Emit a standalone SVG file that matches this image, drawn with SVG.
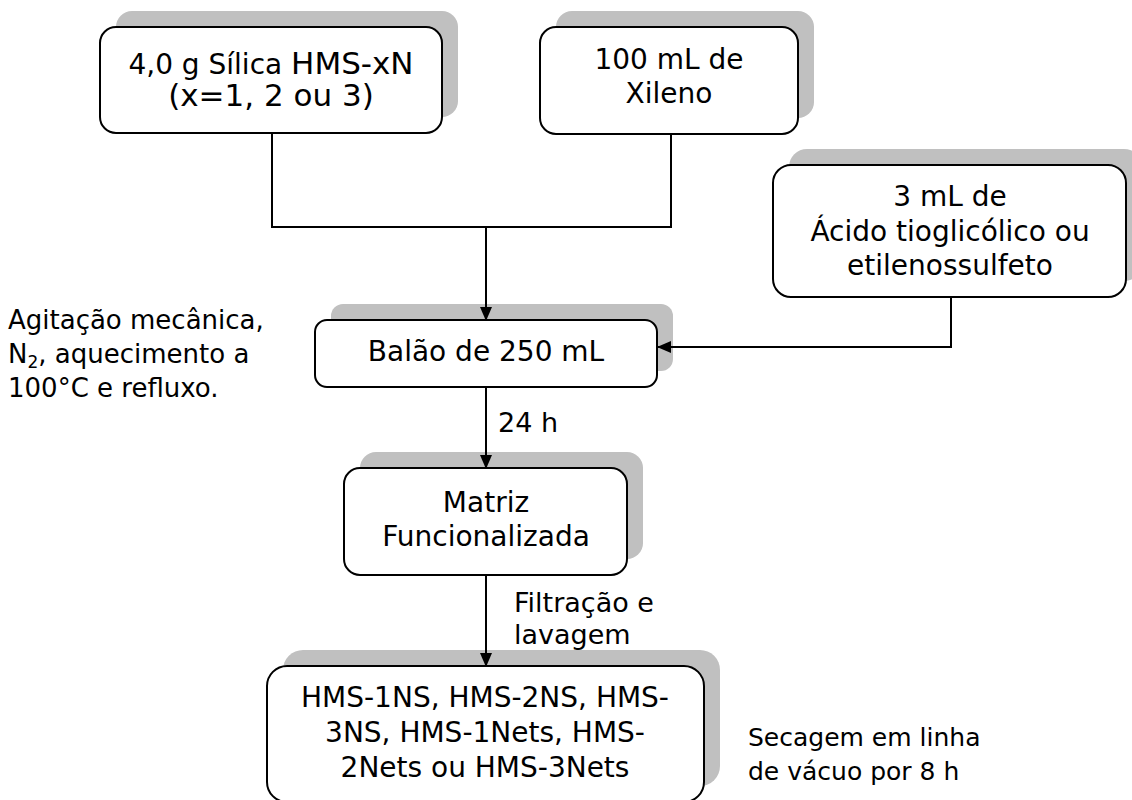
<svg xmlns="http://www.w3.org/2000/svg" width="1132" height="800" viewBox="0 0 1132 800">
<defs>
<style>
.shadow{fill:#c0c0c0;stroke:none}
.box{fill:#fff;stroke:#000;stroke-width:2}
.t{font-family:"DejaVu Sans","Verdana",sans-serif;font-size:28px;fill:#000}
.s{font-size:27px}
.side{font-size:26px}
.sec{font-size:25px}
.big{font-size:31px}
.c{text-anchor:middle}
.line{fill:none;stroke:#000;stroke-width:2}
</style>
<marker id="arr" markerWidth="14" markerHeight="12" refX="13" refY="6" orient="auto" markerUnits="userSpaceOnUse">
<path d="M0,0 L14,6 L0,12 Z" fill="#000"/>
</marker>
</defs>
<rect width="1132" height="800" fill="#fff"/>

<g id="silica">
<rect class="shadow" x="116" y="11" width="342" height="106" rx="16"/>
<rect class="box" x="100" y="27" width="342" height="106" rx="16"/>
<text class="t c" x="271" y="74">4,0 g Sílica <tspan class="big">HMS-xN</tspan></text>
<text class="t c big" x="271" y="106">(x=1, 2 ou 3)</text>
</g>

<g id="xileno">
<rect class="shadow" x="556" y="11" width="258" height="107" rx="16"/>
<rect class="box" x="540" y="27" width="258" height="107" rx="16"/>
<text class="t c" x="669" y="69">100 mL de</text>
<text class="t c" x="669" y="103">Xileno</text>
</g>

<g id="acido">
<rect class="shadow" x="789" y="149" width="353" height="132" rx="18"/>
<rect class="box" x="773" y="165" width="353" height="132" rx="18"/>
<text class="t c" x="950" y="206">3 mL de</text>
<text class="t c" x="950" y="241">Ácido tioglicólico ou</text>
<text class="t c" x="950" y="275">etilenossulfeto</text>
</g>

<g id="balao">
<rect class="shadow" x="331" y="304" width="342" height="67" rx="12"/>
<rect class="box" x="315" y="320" width="342" height="67" rx="12"/>
<text class="t c" x="486" y="361">Balão de 250 mL</text>
</g>

<g id="agitacao">
<text class="t side" x="8" y="329">Agitação mecânica,</text>
<text class="t side" x="8" y="363">N<tspan font-size="17" dy="5">2</tspan><tspan dy="-5">, aquecimento a</tspan></text>
<text class="t side" x="8" y="397">100°C e refluxo.</text>
</g>

<g id="matriz">
<rect class="shadow" x="360" y="452" width="283" height="107" rx="16"/>
<rect class="box" x="344" y="468" width="283" height="107" rx="16"/>
<text class="t c" x="486" y="512">Matriz</text>
<text class="t c" x="486" y="546">Funcionalizada</text>
</g>

<g id="produtos">
<rect class="shadow" x="283" y="650" width="437" height="136" rx="20"/>
<rect class="box" x="267" y="666" width="437" height="136" rx="20"/>
<text class="t c" x="485" y="707">HMS-1NS, HMS-2NS, HMS-</text>
<text class="t c" x="485" y="742">3NS, HMS-1Nets, HMS-</text>
<text class="t c" x="485" y="777">2Nets ou HMS-3Nets</text>
</g>

<g id="labels">
<text class="t s" x="498" y="432">24 h</text>
<text class="t s" x="514" y="612">Filtração e</text>
<text class="t s" x="514" y="644">lavagem</text>
<text class="t sec" x="748" y="746">Secagem em linha</text>
<text class="t sec" x="748" y="780">de vácuo por 8 h</text>
</g>

<g id="connectors">
<polyline class="line" points="272,133 272,227 671,227 671,134"/>
<line class="line" x1="486" y1="227" x2="486" y2="320" marker-end="url(#arr)"/>
<polyline class="line" points="951,297 951,347 658,347" marker-end="url(#arr)"/>
<line class="line" x1="486" y1="387" x2="486" y2="468" marker-end="url(#arr)"/>
<line class="line" x1="486" y1="575" x2="486" y2="666" marker-end="url(#arr)"/>
</g>
</svg>
